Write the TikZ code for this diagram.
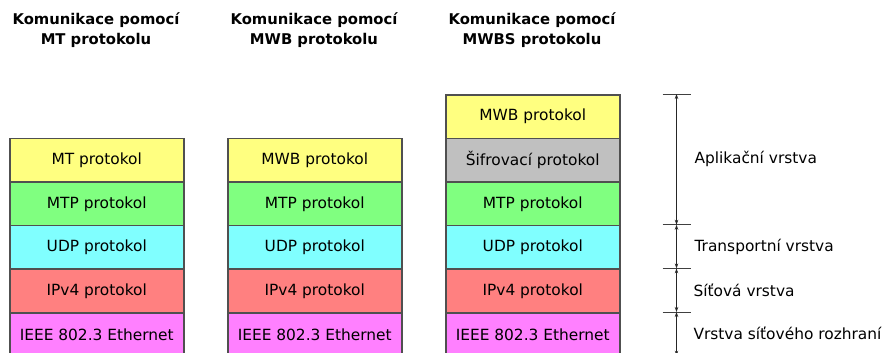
\documentclass[tikz,border=0pt]{standalone}
\usepackage{fontspec}
\setmainfont{DejaVu Sans}
\usetikzlibrary{arrows.meta}
\definecolor{appyellow}{HTML}{FFFF80}
\definecolor{appgreen}{HTML}{80FF80}
\definecolor{appcyan}{HTML}{80FFFF}
\definecolor{appred}{HTML}{FF8080}
\definecolor{appmagenta}{HTML}{FF80FF}
\definecolor{appgray}{HTML}{C0C0C0}
\definecolor{edge}{HTML}{505050}
\tikzset{
  layer/.style={draw=edge, line width=1.5pt, minimum width=174pt, minimum height=43.6pt,
    inner sep=0pt, anchor=north west, font=\fontsize{15.4}{18}\selectfont},
  header/.style={align=center, font=\fontsize{14.8}{19.5}\selectfont\bfseries},
  tick/.style={draw=black!75, line width=1pt},
  span/.style={draw=black!85, line width=0.9pt, {Stealth[length=5pt,width=3.5pt]}-{Stealth[length=5pt,width=3.5pt]}},
  lbl/.style={anchor=west, font=\fontsize{15.4}{18}\selectfont}
}
\begin{document}
\begin{tikzpicture}[x=1pt,y=-1pt]
\useasboundingbox (0,0) rectangle (888,353);

% column headers
\node[header] (h1) at (96,30) {Komunikace pomocí\\MT protokolu};
\node[header] (h2) at (314,30) {Komunikace pomocí\\MWB protokolu};
\node[header] (h3) at (532,30) {Komunikace pomocí\\MWBS protokolu};

% MT stack
\node[layer, fill=appyellow]  (a1) at (9,137.6) {MT protokol};
\node[layer, fill=appgreen]   (a2) at (9,181.2) {MTP protokol};
\node[layer, fill=appcyan]    (a3) at (9,224.8) {UDP protokol};
\node[layer, fill=appred]     (a4) at (9,268.4) {IPv4 protokol};
\node[layer, fill=appmagenta] (a5) at (9,312.0) {IEEE 802.3 Ethernet};

% MWB stack
\node[layer, fill=appyellow]  (b1) at (227,137.6) {MWB protokol};
\node[layer, fill=appgreen]   (b2) at (227,181.2) {MTP protokol};
\node[layer, fill=appcyan]    (b3) at (227,224.8) {UDP protokol};
\node[layer, fill=appred]     (b4) at (227,268.4) {IPv4 protokol};
\node[layer, fill=appmagenta] (b5) at (227,312.0) {IEEE 802.3 Ethernet};

% MWBS stack
\node[layer, fill=appyellow]  (c0) at (445,94.0) {MWB protokol};
\node[layer, fill=appgray]    (c1) at (445,137.6) {Šifrovací protokol};
\node[layer, fill=appgreen]   (c2) at (445,181.2) {MTP protokol};
\node[layer, fill=appcyan]    (c3) at (445,224.8) {UDP protokol};
\node[layer, fill=appred]     (c4) at (445,268.4) {IPv4 protokol};
\node[layer, fill=appmagenta] (c5) at (445,312.0) {IEEE 802.3 Ethernet};

% layer boundaries on the scale
\coordinate (t0) at (676.5,94.0);
\coordinate (t1) at (676.5,224.8);
\coordinate (t2) at (676.5,268.4);
\coordinate (t3) at (676.5,312.0);
\coordinate (t4) at (676.5,355.6);
\foreach \t in {t0,t1,t2,t3}{
  \draw[tick] ([xshift=-14pt]\t) -- ([xshift=14pt]\t);
}
\draw[span] (t0) -- (t1);
\draw[span] (t1) -- (t2);
\draw[span] (t2) -- (t3);
\draw[span] (t3) -- (t4);

% layer names
\node[lbl] (l1) at (691,159.4) {Aplikační vrstva};
\node[lbl] (l2) at (691,246.6) {Transportní vrstva};
\node[lbl] (l3) at (690,290.2) {Síťová vrstva};
\node[lbl] (l4) at (690,333.8) {Vrstva síťového rozhraní};
\end{tikzpicture}
\end{document}
